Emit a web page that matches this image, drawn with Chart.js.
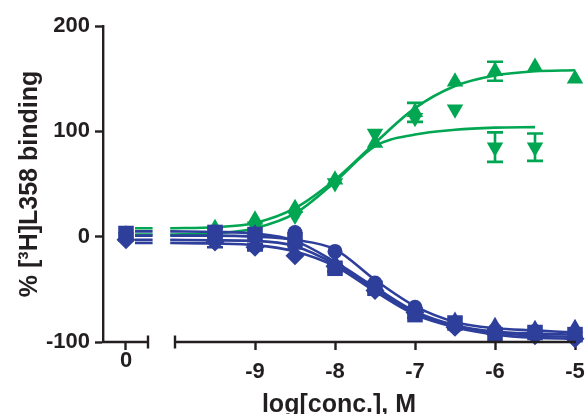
<!DOCTYPE html>
<html><head><meta charset="utf-8">
<script src="https://cdn.jsdelivr.net/npm/chart.js@4.4.1/dist/chart.umd.min.js"></script>
<style>html,body{margin:0;padding:0;background:#fff;}</style>
</head><body>
<canvas id="c" width="587" height="414"></canvas>
<script>
// ---- axis layout (data units on the log[conc] scale) ----
const X_MIN = -10.9, X_MAX = -5;
const CONTROL_AT = -10.6125;          // where the "0" (no drug) group sits
const BREAK_LEFT = -10.3375, BREAK_RIGHT = -10;
const xTickValues = [-9, -8, -7, -6, -5];
const yTickValues = [-100, 0, 100, 200];
const controlLabel = '0';

// ---- measured points ----
const concLog = [-9.5, -9, -8.5, -8, -7.5, -7, -6.5, -6, -5.5, -5];

const gUpCtrl = 0;
const gUpVals = [8, 16, 27, 54, 89, 118, 147, 157, 161, 150];
const gUpErr  = [0, 0, 0, 0, 0, 9, 0, 9, 0, 0];

const gDownCtrl = 0;
const gDownVals = [5, 10, 20, 51, 98, 113, 121, 85, 85, null];
const gDownErr  = [0, 0, 0, 0, 0, 0, 0, 14, 13, 0];

const bSquareCtrl = 3;
const bSquareVals = [4, 2, -3, -30, -49, -74, -82, -93, -91, -93];
const bSquareErr  = [4, 0, 0, 3, 3, 3, 0, 0, 0, 0];

const bCircleCtrl = 1;
const bCircleVals = [2, 0, 4, -14, -44, -67, -85, -89, -90, -95];
const bCircleErr  = [0, 0, 0, 0, 0, 0, 0, 0, 0, 0];

const bTriCtrl = 2;
const bTriVals = [3, 3, -8, -25, -47, -70, -80, -85, -88, -87];
const bTriErr  = [0, 0, 0, 0, 0, 0, 0, 0, 0, 0];

const bDiaCtrl = -3;
const bDiaVals = [-5, -10, -18, -28, -51, -72, -86, -92, -94, -97];
const bDiaErr  = [5, 3, 0, 0, 0, 0, 0, 0, 0, 0];

// ---- fitted curves ----
const curveLeftLog = [-10.5, -10.28];
const curveLog = [-10.06, -9.5, -9, -8.5, -8, -7.5, -7, -6.5, -6, -5.5, -5];

const gUpCurve    = [8, 8,  8, 9, 13, 27, 54, 89, 122, 143, 153, 157, 158];
const gDownCurve  = [2, 2,  2, 3, 8, 22, 52, 86, 97, 101.5, 103.5, 104, null];
const bSquareCurve= [5, 5,  5, 4.5, 3, -4, -24, -48, -71, -84, -90, -92, -93];
const bCircleCurve= [1, 1,  1, 1, 0, -3, -12, -41, -66, -81, -87, -89, -91];
const bTriCurve   = [-3, -3, -3, -3.5, -4, -9, -26, -50, -73, -85, -91, -94, -95];
const bDiaCurve   = [-6, -6, -6, -6.5, -8, -14, -28, -52, -74, -86, -93, -96, -97];

const GREEN = '#00a651';
const BLUE = '#2e3f9b';
const INK = '#231f20';

function pts(ctrl, vals) {
  const a = [{x: CONTROL_AT, y: ctrl}];
  concLog.forEach((x, i) => { if (vals[i] !== null) a.push({x, y: vals[i]}); });
  return a;
}
function curve(vals) {
  const xs = curveLeftLog.concat(curveLog);
  const a = [];
  xs.forEach((x, i) => {
    if (i === curveLeftLog.length) a.push({x: (BREAK_LEFT + BREAK_RIGHT) / 2, y: null});
    if (vals[i] !== null) a.push({x, y: vals[i]});
  });
  return a;
}
function lineDs(vals, color, order) {
  return {type: 'line', data: curve(vals), borderColor: color, borderWidth: 2.6,
    pointRadius: 0, cubicInterpolationMode: 'monotone', spanGaps: false, fill: false, clip: false, order};
}
function ptDs(ctrl, vals, e, color, style, r, rot, order) {
  return {type: 'scatter', data: pts(ctrl, vals), errs: [0].concat(e.filter((v, i) => vals[i] !== null)),
    backgroundColor: color, borderColor: color, borderWidth: 0,
    pointStyle: style, pointRadius: r, pointRotation: rot || 0, pointHoverRadius: r, clip: false, order};
}

const errorBars = {
  id: 'errorBars',
  afterDatasetsDraw(chart) {
    const {ctx} = chart;
    const ys = chart.scales.y, xs = chart.scales.x;
    chart.data.datasets.forEach((ds) => {
      if (!ds.errs) return;
      ctx.save();
      ctx.strokeStyle = ds.borderColor; ctx.lineWidth = 2.6;
      ds.data.forEach((p, i) => {
        const e = ds.errs[i];
        if (!e) return;
        const px = xs.getPixelForValue(p.x);
        const y1 = ys.getPixelForValue(p.y + e), y2 = ys.getPixelForValue(p.y - e);
        ctx.beginPath();
        ctx.moveTo(px, y1); ctx.lineTo(px, y2);
        ctx.moveTo(px - 8, y1); ctx.lineTo(px + 8, y1);
        ctx.moveTo(px - 8, y2); ctx.lineTo(px + 8, y2);
        ctx.stroke();
      });
      ctx.restore();
    });
  }
};

const brokenAxis = {
  id: 'brokenAxis',
  afterDraw(chart) {
    const {ctx, chartArea} = chart;
    const xs = chart.scales.x;
    const y = chartArea.bottom;
    const bl = xs.getPixelForValue(BREAK_LEFT), br = xs.getPixelForValue(BREAK_RIGHT);
    ctx.save();
    ctx.strokeStyle = INK; ctx.lineWidth = 2.4; ctx.lineCap = 'butt';
    ctx.beginPath();
    ctx.moveTo(chartArea.left - 1, y); ctx.lineTo(bl, y);
    ctx.moveTo(bl, y - 6.5); ctx.lineTo(bl, y + 6.5);
    ctx.moveTo(br, y - 6.5); ctx.lineTo(br, y + 6.5);
    ctx.moveTo(br, y); ctx.lineTo(chartArea.right + 1, y);
    ctx.stroke();
    ctx.fillStyle = INK;
    ctx.font = 'bold 22px "Liberation Sans", Arial, sans-serif';
    ctx.textAlign = 'center'; ctx.textBaseline = 'middle';
    ctx.fillText(controlLabel, xs.getPixelForValue(CONTROL_AT), y + 19);
    ctx.restore();
  }
};

new Chart(document.getElementById('c'), {
  data: {
    datasets: [
      lineDs(gUpCurve, GREEN, 20),
      lineDs(gDownCurve, GREEN, 19),
      ptDs(gUpCtrl, gUpVals, gUpErr, GREEN, 'triangle', 9.5, 0, 18),
      ptDs(gDownCtrl, gDownVals, gDownErr, GREEN, 'triangle', 9.5, 180, 17),
      lineDs(bSquareCurve, BLUE, 16),
      lineDs(bCircleCurve, BLUE, 15),
      lineDs(bTriCurve, BLUE, 14),
      lineDs(bDiaCurve, BLUE, 13),
      ptDs(bCircleCtrl, bCircleVals, bCircleErr, BLUE, 'circle', 7.5, 0, 12),
      ptDs(bTriCtrl, bTriVals, bTriErr, BLUE, 'triangle', 9.5, 0, 11),
      ptDs(bDiaCtrl, bDiaVals, bDiaErr, BLUE, 'rectRot', 9.5, 0, 10),
      ptDs(bSquareCtrl, bSquareVals, bSquareErr, BLUE, 'rect', 11, 0, 9)
    ]
  },
  options: {
    responsive: false, animation: false,
    layout: {padding: {top: 26, right: 12, left: 0, bottom: 0}},
    plugins: {legend: {display: false}, tooltip: {enabled: false}},
    scales: {
      x: {
        type: 'linear', min: X_MIN, max: X_MAX,
        afterBuildTicks: (s) => { s.ticks = [CONTROL_AT].concat(xTickValues).map(v => ({value: v})); },
        afterFit: (s) => { s.height = 72; s.paddingLeft = 0; s.paddingRight = 0; },
        border: {display: false},
        grid: {display: true, drawOnChartArea: false, drawTicks: true, tickLength: 8, tickWidth: 2.4, color: INK},
        ticks: {
          autoSkip: false, maxRotation: 0, padding: 9, color: INK,
          font: {family: '"Liberation Sans", Arial, sans-serif', size: 22, weight: 'bold'},
          callback: (v) => (v === CONTROL_AT ? '' : String(v))
        },
        title: {display: true, text: 'log[conc.], M', color: INK,
          font: {family: '"Liberation Sans", Arial, sans-serif', size: 25, weight: 'bold', lineHeight: 1},
          padding: {top: 0, bottom: -4}}
      },
      y: {
        type: 'linear', min: -100, max: 200,
        afterBuildTicks: (s) => { s.ticks = yTickValues.map(v => ({value: v})); },
        afterFit: (s) => { s.width = 103; s.paddingTop = 0; s.paddingBottom = 0; },
        border: {display: true, width: 2.4, color: INK},
        grid: {display: true, drawOnChartArea: false, drawTicks: true, tickLength: 8, tickWidth: 2.4, color: INK},
        ticks: {padding: 5, color: INK,
          font: {family: '"Liberation Sans", Arial, sans-serif', size: 22, weight: 'bold'}},
        title: {display: true, text: '% [³H]L358 binding', color: INK,
          font: {family: '"Liberation Sans", Arial, sans-serif', size: 25, weight: 'bold', lineHeight: 1.2},
          padding: {top: 15, bottom: 0}}
      }
    }
  },
  plugins: [errorBars, brokenAxis]
});
</script>
</body></html>
